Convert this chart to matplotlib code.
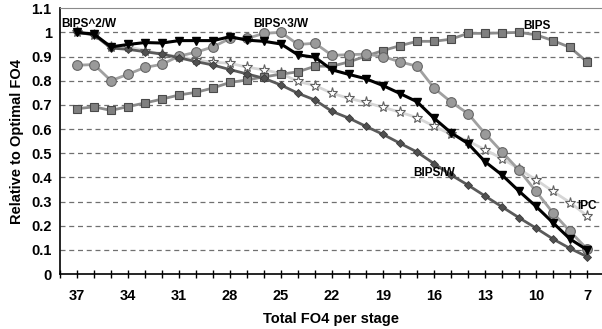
import matplotlib
matplotlib.use("Agg")
import matplotlib.pyplot as plt
from matplotlib.ticker import MultipleLocator

plt.rcParams['font.family'] = ['Liberation Sans', 'DejaVu Sans']

# total FO4 per stage (x axis runs from 37 down to 7)
fo4 = list(range(37, 6, -1))

bips = [0.684, 0.692, 0.677, 0.693, 0.708, 0.724, 0.741, 0.752, 0.770, 0.793,
        0.803, 0.816, 0.827, 0.837, 0.860, 0.860, 0.878, 0.902, 0.925, 0.945,
        0.963, 0.963, 0.972, 0.996, 0.996, 0.998, 1.000, 0.990, 0.966, 0.938,
        0.878]
bips3_w = [0.864, 0.867, 0.800, 0.827, 0.855, 0.868, 0.902, 0.918, 0.940, 0.975,
           0.975, 0.996, 1.000, 0.950, 0.955, 0.905, 0.908, 0.910, 0.900, 0.878,
           0.860, 0.770, 0.712, 0.664, 0.581, 0.505, 0.430, 0.342, 0.253, 0.177,
           0.104]
bips2_w = [1.000, 0.993, 0.940, 0.950, 0.958, 0.956, 0.966, 0.966, 0.966, 0.982,
           0.968, 0.963, 0.952, 0.907, 0.897, 0.845, 0.826, 0.808, 0.780, 0.747,
           0.713, 0.645, 0.585, 0.540, 0.465, 0.410, 0.343, 0.280, 0.212, 0.145,
           0.100]
bips_w = [1.000, 0.990, 0.935, 0.930, 0.920, 0.910, 0.895, 0.879, 0.865, 0.846,
          0.828, 0.810, 0.782, 0.748, 0.720, 0.673, 0.645, 0.611, 0.578, 0.541,
          0.505, 0.457, 0.410, 0.368, 0.323, 0.278, 0.233, 0.190, 0.145, 0.106,
          0.072]
ipc = [1.000, 0.990, 0.940, 0.940, 0.925, 0.910, 0.900, 0.885, 0.877, 0.872,
       0.856, 0.845, 0.830, 0.797, 0.780, 0.748, 0.727, 0.710, 0.690, 0.670,
       0.647, 0.612, 0.578, 0.551, 0.514, 0.478, 0.435, 0.390, 0.342, 0.296,
       0.241]

fig = plt.figure(figsize=(6.02, 3.29), dpi=100)
ax = fig.add_axes([0.0997, 0.167, 0.9003, 0.808])

# lines, light ones first so the dark ones sit on top
ax.plot(fo4, ipc, color="#d6d6d6", lw=2, marker="*", ms=8,
        mfc="white", mec="#606060", mew=0.8, zorder=3)
ax.plot(fo4, bips, color="#8a8a8a", lw=2, marker="s", ms=5.8,
        mfc="#808080", mec="#4a4a4a", mew=0.8, zorder=4)
ax.plot(fo4, bips3_w, color="#a0a0a0", lw=2, marker="o", ms=7,
        mfc="#9a9a9a", mec="#666666", mew=0.8, zorder=5)
ax.plot(fo4, bips_w, color="#5a5a5a", lw=2, marker="D", ms=4.3,
        mfc="#505050", mec="#3a3a3a", mew=0.6, zorder=6)
ax.plot(fo4, bips2_w, color="black", lw=2.2, marker="v", ms=5.5,
        mfc="black", mec="black", zorder=7)

# series names written in the plot
lab = dict(fontsize=8.5, fontweight="bold", va="center", ha="left", zorder=10)
ax.text(37.9, 1.034, "BIPS^2/W", **lab)
ax.text(26.65, 1.034, "BIPS^3/W", **lab)
ax.text(10.76, 1.027, "BIPS", **lab)
ax.text(17.24, 0.42, "BIPS/W", **lab)
ax.text(7.59, 0.28, "IPC", **lab)

ax.set_xlim(38, 6.12)
ax.set_ylim(0, 1.1)
ax.xaxis.set_minor_locator(MultipleLocator(1))
ax.set_xticks(list(range(37, 6, -3)))
ax.set_yticks([i / 10 for i in range(12)])
ax.set_yticklabels(["0"] + ["%.1f" % (i / 10) for i in range(1, 10)] + ["1", "1.1"])

for y in [i / 10 for i in range(1, 11)]:
    ax.axhline(y, color="#707070", lw=0.9, ls=(0, (4, 3)), zorder=1)

ax.tick_params(axis="x", which="both", direction="inout", length=6, width=1,
               pad=8, labelsize=10.5)
ax.tick_params(axis="y", length=0, pad=6, labelsize=10.5)
for t in ax.get_xticklabels() + ax.get_yticklabels():
    t.set_fontweight("bold")

ax.spines["right"].set_visible(False)
ax.spines["top"].set_color("#8a8a8a")
ax.spines["left"].set_linewidth(1.2)
ax.spines["bottom"].set_linewidth(1.2)

ax.set_xlabel("Total FO4 per stage", fontsize=10.5, fontweight="bold", labelpad=6)
ax.set_ylabel("Relative to Optimal FO4", fontsize=10.5, fontweight="bold", labelpad=5)

fig.savefig("out.png", dpi=100)
